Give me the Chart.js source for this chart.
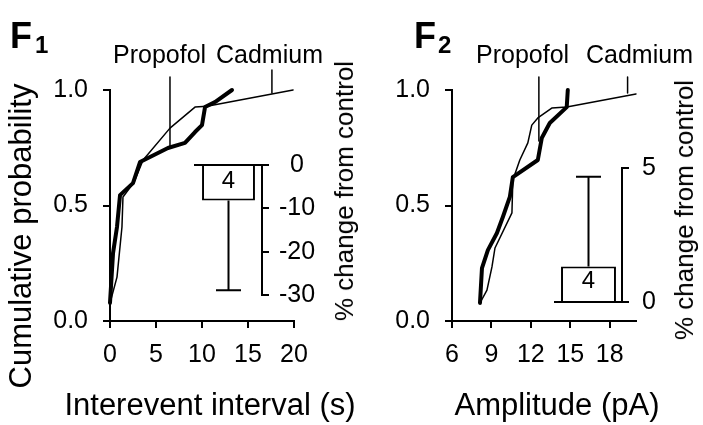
<!DOCTYPE html>
<html>
<head>
<meta charset="utf-8">
<script src="https://cdn.jsdelivr.net/npm/chart.js@4.4.0/dist/chart.umd.min.js"></script>
<style>
  html, body { margin: 0; padding: 0; background: #fff; }
  #page { position: relative; width: 703px; height: 425px; overflow: hidden; font-family: 'Liberation Sans', Arial, sans-serif; color: #000; }
  canvas { position: absolute; }
  .txt { position: absolute; white-space: nowrap; line-height: 1; }
  .mid { transform: translate(-50%, -50%); }
  .up { transform: translate(-50%, -50%) rotate(-90deg); }
  .big { font-weight: bold; }
</style>
</head>
<body>
<div id="page">
  <canvas id="mainF1" width="350" height="425" style="left:0;top:0"></canvas>
  <canvas id="mainF2" width="353" height="425" style="left:350px;top:0"></canvas>
  <canvas id="insetF1" width="150" height="180" style="left:180px;top:140px"></canvas>
  <canvas id="insetF2" width="150" height="190" style="left:540px;top:140px"></canvas>

  <div class="txt big" style="left:10px;top:18px;font-size:36px">F</div>
  <div class="txt big" style="left:35px;top:33px;font-size:24px">1</div>
  <div class="txt big" style="left:414px;top:18px;font-size:36px">F</div>
  <div class="txt big" style="left:438px;top:33px;font-size:24px">2</div>

  <div class="txt" style="left:113px;top:42px;font-size:25px">Propofol</div>
  <div class="txt" style="left:216px;top:42px;font-size:25px">Cadmium</div>
  <div class="txt" style="left:476px;top:42px;font-size:25px">Propofol</div>
  <div class="txt" style="left:586px;top:42px;font-size:25px">Cadmium</div>

  <div class="txt up" style="left:20px;top:236px;font-size:31px">Cumulative probability</div>
  <div class="txt up" style="left:344px;top:191px;font-size:26px">% change from control</div>
  <div class="txt up" style="left:684px;top:210px;font-size:26px">% change from control</div>

  <div class="txt mid" style="left:210px;top:404px;font-size:31px">Interevent interval (s)</div>
  <div class="txt mid" style="left:557px;top:404px;font-size:31px">Amplitude (pA)</div>
</div>

<script>
// Panel F1 - interevent interval (s)
const f1PropofolX = [0, 0.33, 0.76, 1.09, 2.5, 3.26, 6.3, 8.15, 9.24, 10.0, 10.33, 11.41, 13.26];
const f1PropofolY = [0.078, 0.294, 0.407, 0.545, 0.597, 0.688, 0.749, 0.771, 0.818, 0.848, 0.926, 0.948, 1.0];
const f1CadmiumX = [0, 0.76, 1.3, 1.41, 2.6, 3.6, 6.52, 9.24, 10.54, 19.9];
const f1CadmiumY = [0.078, 0.19, 0.407, 0.537, 0.60, 0.697, 0.835, 0.926, 0.93, 1.0];
const f1Ticks = [0, 5, 10, 15, 20];
const f1Change = -8.2;
const f1ChangeErr = -28.9;
const f1ChangeTicks = [0, -10, -20, -30];

// Panel F2 - amplitude (pA)
const f2PropofolX = [8.13, 8.28, 8.73, 9.42, 9.87, 10.40, 10.63, 12.53, 12.83, 13.44, 14.73, 14.81];
const f2PropofolY = [0.078, 0.229, 0.307, 0.381, 0.45, 0.537, 0.623, 0.697, 0.792, 0.857, 0.926, 1.0];
const f2CadmiumX = [8.13, 8.66, 9.04, 9.27, 10.56, 10.63, 11.16, 11.77, 12.07, 12.53, 13.59, 14.73, 20.0];
const f2CadmiumY = [0.078, 0.134, 0.234, 0.316, 0.468, 0.61, 0.697, 0.771, 0.848, 0.879, 0.922, 0.926, 0.983];
const f2Ticks = [6, 9, 12, 15, 18];
const f2Change = 1.32;
const f2ChangeErr = 4.67;
const f2ChangeTicks = [0, 5];

const probTicks = [0, 0.5, 1.0];
const cellCount = '4';

// where the Propofol / Cadmium labels point (x, y from, y to)
const f1PropofolMark = [6.52, 0.75, 1.056];
const f1CadmiumMark = [17.6, 0.987, 1.087];
const f2PropofolMark = [12.61, 0.779, 1.056];
const f2CadmiumMark = [19.36, 0.987, 1.056];

Chart.defaults.font.family = "'Liberation Sans', Arial, sans-serif";
Chart.defaults.color = '#000';

function toPoints(xs, ys) {
    return xs.map((x, i) => ({ x: x, y: ys[i] }));
}

function markPoints(m) {
    return [{ x: m[0], y: m[1] }, { x: m[0], y: m[2] }];
}

function lineSet(points, width) {
    return {
        data: points,
        borderColor: '#000',
        borderWidth: width,
        pointRadius: 0,
        tension: 0,
        fill: false,
        clip: false,
        borderJoinStyle: 'round',
        borderCapStyle: 'round'
    };
}

function axisStyle(ticks) {
    return {
        type: 'linear',
        afterBuildTicks: s => { s.ticks = ticks.map(v => ({ value: v })); },
        grid: { drawOnChartArea: false, drawTicks: true, tickLength: 7, color: '#000', lineWidth: 2 },
        border: { display: true, color: '#000', width: 2 },
        ticks: { color: '#000', font: { size: 25 }, autoSkip: false, maxRotation: 0, padding: 12 }
    };
}

// Cumulative probability plot
function makeMain(id, cfg) {
    const x = axisStyle(cfg.ticks);
    x.min = cfg.min;
    x.max = cfg.max;
    x.afterFit = s => { s.height = 104; };

    const y = axisStyle(probTicks);
    y.min = 0;
    y.max = 1;
    y.ticks.padding = 15;
    y.ticks.callback = v => v.toFixed(1);
    y.afterFit = s => { s.width = cfg.left; };

    return new Chart(document.getElementById(id), {
        type: 'line',
        data: {
            datasets: [
                lineSet(toPoints(cfg.propX, cfg.propY), 4),
                lineSet(toPoints(cfg.cadX, cfg.cadY), 1.5),
                lineSet(markPoints(cfg.propMark), 1.5),
                lineSet(markPoints(cfg.cadMark), 1.5)
            ]
        },
        options: {
            animation: false,
            responsive: false,
            layout: { padding: { left: 0, top: 90, right: cfg.right, bottom: 0 } },
            plugins: { legend: { display: false }, tooltip: { enabled: false } },
            scales: { x: x, y: y }
        }
    });
}

// error bar and n inside the inset bar
const insetMarks = {
    id: 'insetMarks',
    afterDatasetsDraw(chart, args, opts) {
        const bar = chart.getDatasetMeta(0).data[0];
        const tip = chart.scales.y.getPixelForValue(opts.tip);
        const ctx = chart.ctx;
        ctx.save();
        ctx.strokeStyle = '#000';
        ctx.lineWidth = 2;
        ctx.beginPath();
        ctx.moveTo(bar.x, bar.y);
        ctx.lineTo(bar.x, tip);
        ctx.moveTo(bar.x - 12.5, tip);
        ctx.lineTo(bar.x + 12.5, tip);
        ctx.stroke();
        ctx.fillStyle = '#000';
        ctx.font = "24px 'Liberation Sans', Arial, sans-serif";
        ctx.textAlign = 'center';
        ctx.textBaseline = 'middle';
        ctx.fillText(opts.n, bar.x, (bar.y + bar.base) / 2 - 2);
        ctx.restore();
    }
};

// % change from control inset
function makeInset(id, cfg) {
    const y = axisStyle(cfg.ticks);
    y.position = 'right';
    y.min = cfg.min;
    y.max = cfg.max;
    y.ticks.crossAlign = 'center';
    y.ticks.padding = cfg.labelPad;
    y.afterFit = s => { s.width = 68; };

    return new Chart(document.getElementById(id), {
        type: 'bar',
        data: {
            labels: ['n'],
            datasets: [{
                data: [cfg.value],
                backgroundColor: '#fff',
                borderColor: '#000',
                borderWidth: 2,
                borderSkipped: 'start',
                barPercentage: cfg.barFrac,
                categoryPercentage: 1
            }]
        },
        plugins: [insetMarks],
        options: {
            animation: false,
            responsive: false,
            layout: { padding: cfg.pad },
            plugins: {
                legend: { display: false },
                tooltip: { enabled: false },
                insetMarks: { tip: cfg.tip, n: cellCount }
            },
            scales: {
                x: {
                    position: cfg.zeroAt,
                    afterFit: s => { s.height = 0; },
                    ticks: { display: false },
                    grid: { display: true, drawOnChartArea: false, drawTicks: false },
                    border: { display: true, color: '#000', width: 2 }
                },
                y: y
            }
        }
    });
}

makeMain('mainF1', {
    propX: f1PropofolX, propY: f1PropofolY, cadX: f1CadmiumX, cadY: f1CadmiumY,
    propMark: f1PropofolMark, cadMark: f1CadmiumMark,
    ticks: f1Ticks, min: 0, max: 20, left: 110, right: 56
});

makeMain('mainF2', {
    propX: f2PropofolX, propY: f2PropofolY, cadX: f2CadmiumX, cadY: f2CadmiumY,
    propMark: f2PropofolMark, cadMark: f2CadmiumMark,
    ticks: f2Ticks, min: 6, max: 20, left: 102, right: 67
});

makeInset('insetF1', {
    value: f1Change, tip: f1ChangeErr, ticks: f1ChangeTicks, min: -30, max: 0,
    zeroAt: 'top', barFrac: 0.79, labelPad: 10,
    pad: { left: 15, top: 24, right: 0, bottom: 21 }
});

makeInset('insetF2', {
    value: f2Change, tip: f2ChangeErr, ticks: f2ChangeTicks, min: 0, max: 5,
    zeroAt: 'bottom', barFrac: 0.82, labelPad: 13,
    pad: { left: 15, top: 28, right: 0, bottom: 26 }
});
</script>
</body>
</html>
